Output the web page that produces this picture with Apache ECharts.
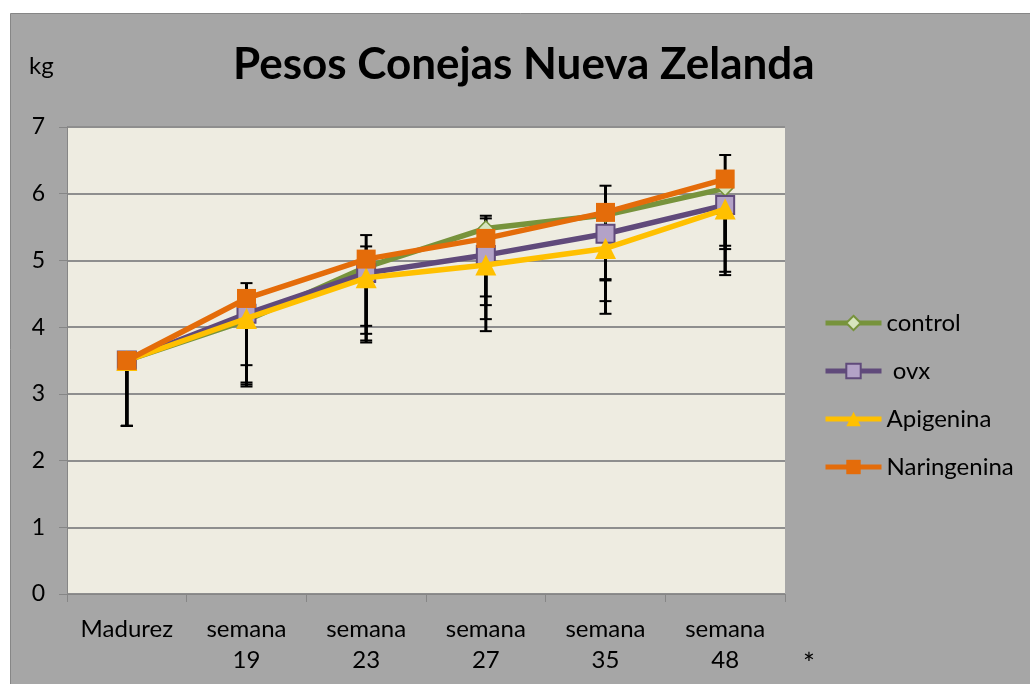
<!DOCTYPE html>
<html><head><meta charset="utf-8">
<script src="https://cdn.jsdelivr.net/npm/echarts@6/dist/echarts.min.js"></script>
<style>html,body{margin:0;padding:0;background:#fff}#c{width:1030px;height:684px}</style>
</head><body><div id="c"></div>
<script>
const categories = ['Madurez', 'semana\n19', 'semana\n23', 'semana\n27', 'semana\n35', 'semana\n48'];
const yTicks = [0, 1, 2, 3, 4, 5, 6, 7];
const seriesNames = ['control', ' ovx', 'Apigenina', 'Naringenina'];
const control     = [3.5, 4.10, 4.90, 5.48, 5.68, 6.08];
const ovx         = [3.5, 4.20, 4.81, 5.08, 5.40, 5.83];
const apigenina   = [3.5, 4.13, 4.74, 4.93, 5.18, 5.77];
const naringenina = [3.5, 4.43, 5.02, 5.33, 5.72, 6.22];
// error bar ends (low / high)
const controlLow      = [2.52, 3.43, 4.02, 4.46, 4.72, 5.22];
const controlHigh     = [3.5, 4.10, 5.21, 5.63, 5.68, 6.08];
const ovxLow          = [2.52, 3.17, 3.90, 4.33, 4.70, 5.17];
const ovxHigh         = [3.5, 4.20, 4.81, 5.08, 5.40, 5.83];
const apigeninaLow    = [2.52, 3.14, 3.80, 4.12, 4.39, 4.83];
const apigeninaHigh   = [3.5, 4.13, 4.74, 4.93, 5.18, 5.77];
const naringeninaLow  = [2.52, 3.11, 3.77, 3.94, 4.20, 4.78];
const naringeninaHigh = [3.5, 4.66, 5.38, 5.67, 6.12, 6.58];

const FONT = 'Lato';
const values = [control, ovx, apigenina, naringenina];
const lows = [controlLow, ovxLow, apigeninaLow, naringeninaLow];
const highs = [controlHigh, ovxHigh, apigeninaHigh, naringeninaHigh];
const lineColors = ['#77933c', '#604a7b', '#ffc000', '#e46c0a'];
const fillColors = ['#d7e4bd', '#b3a2c7', '#ffc000', '#e46c0a'];
const symbols = ['diamond', 'rect', 'triangle', 'rect'];
const symbolSizes = [15, 18, 21, 19];

const errData = [];
values.forEach((v, s) => v.forEach((val, i) => errData.push([i, val, lows[s][i], highs[s][i]])));

const series = [{
  type: 'custom', name: 'err', z: 1, silent: true,
  encode: { x: 0, y: 1 },
  data: errData,
  renderItem: function (params, api) {
    const i = api.value(0), v = api.value(1), lo = api.value(2), hi = api.value(3);
    const pLo = api.coord([i, lo]), pHi = api.coord([i, hi]);
    const ch = [{ type: 'line', shape: { x1: pLo[0], y1: pLo[1], x2: pHi[0], y2: pHi[1] }, style: { stroke: '#000', lineWidth: 3 } }];
    if (lo < v) ch.push({ type: 'line', shape: { x1: pLo[0] - 6, y1: pLo[1], x2: pLo[0] + 6, y2: pLo[1] }, style: { stroke: '#000', lineWidth: 2 } });
    if (hi > v) ch.push({ type: 'line', shape: { x1: pHi[0] - 6, y1: pHi[1], x2: pHi[0] + 6, y2: pHi[1] }, style: { stroke: '#000', lineWidth: 2 } });
    return { type: 'group', children: ch };
  }
}];
seriesNames.forEach((n, s) => series.push({
  type: 'line', name: n, data: values[s], z: 2 + s,
  symbol: symbols[s], symbolSize: symbolSizes[s], showSymbol: true,
  lineStyle: { color: lineColors[s], width: 5.5 },
  itemStyle: { color: fillColors[s], borderColor: lineColors[s], borderWidth: s === 0 ? 1.5 : (s === 1 ? 2 : 0), opacity: 1 },
  emphasis: { disabled: true }
}));

const chart = echarts.init(document.getElementById('c'), null, { renderer: 'canvas' });
chart.setOption({
  backgroundColor: '#ffffff',
  animation: false,
  textStyle: { fontFamily: FONT },
  graphic: [
    { type: 'rect', z: -10, shape: { x: 10.5, y: 13.5, width: 1030, height: 680 }, style: { fill: '#a6a6a6', stroke: '#868686', lineWidth: 1 } },
    { type: 'text', left: 233, top: 43, style: { text: 'Pesos Conejas Nueva Zelanda', font: 'bold 44px ' + FONT, fill: '#000' } },
    { type: 'text', left: 29, top: 54, style: { text: 'kg', font: '24px ' + FONT, fill: '#000' } },
    { type: 'text', left: 803, top: 651, style: { text: '*', font: '28px ' + FONT, fill: '#000' } }
  ],
  legend: {
    orient: 'vertical', left: 823, top: 311, padding: 0, itemWidth: 56, itemHeight: 18, itemGap: 24,
    data: seriesNames,
    lineStyle: { width: 5 },
    textStyle: { fontFamily: FONT, fontSize: 24, color: '#000' }
  },
  grid: { left: 67, top: 127, right: 245, bottom: 90, show: true, backgroundColor: '#eeece1', borderWidth: 0 },
  xAxis: {
    type: 'category', data: categories, boundaryGap: true,
    axisLine: { lineStyle: { color: '#868686', width: 1 } },
    axisTick: { show: true, length: 8, lineStyle: { color: '#868686' } },
    axisLabel: { color: '#000', fontFamily: FONT, fontSize: 24, lineHeight: 31, margin: 20, interval: 0 }
  },
  yAxis: {
    type: 'value', min: yTicks[0], max: yTicks[yTicks.length - 1], interval: 1,
    axisLine: { show: true, lineStyle: { color: '#868686', width: 1 } },
    axisTick: { show: true, length: 8, lineStyle: { color: '#868686' } },
    axisLabel: { color: '#000', fontFamily: FONT, fontSize: 23, margin: 22 },
    splitLine: { lineStyle: { color: '#8e8e8e', width: 2 } }
  },
  series: series
});
</script></body></html>
